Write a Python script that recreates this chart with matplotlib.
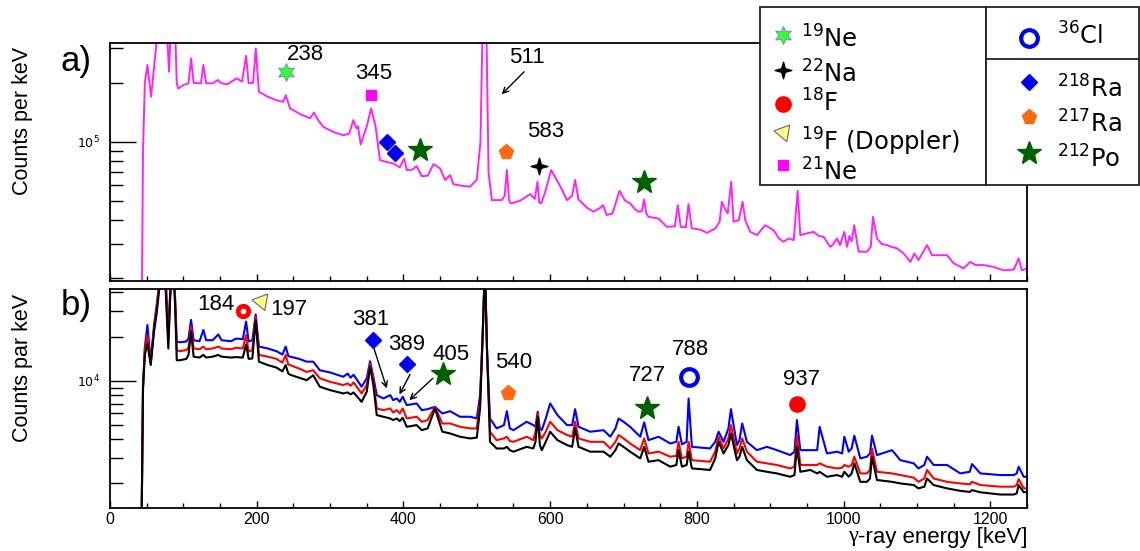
import matplotlib
matplotlib.use('Agg')
import numpy as np
import matplotlib.pyplot as plt
from matplotlib.patches import Rectangle
from matplotlib.path import Path
from matplotlib.ticker import MultipleLocator, LogLocator, NullFormatter, FuncFormatter

plt.rcParams['font.family'] = ['Liberation Sans', 'DejaVu Sans']
plt.rcParams['mathtext.fontset'] = 'dejavusans'

# ---- panel a) spectrum (keV, counts per keV) ----
energy_a = [0, 43, 45, 47.5, 51, 56, 62, 66, 72, 77,
            80.5, 83, 86, 89, 91, 93, 100, 107, 110.5, 114,
            124, 127.3, 131, 140, 147, 152, 160, 172.7, 180, 185.5,
            189, 195, 198.7, 203, 215, 227, 236, 239.6, 245.5, 260,
            272.7, 278, 283, 291, 305, 318, 326, 331.8, 336, 338,
            341.8, 350, 356, 362, 368, 376, 386, 395, 401, 404.6,
            412, 418, 425, 433, 441, 450, 456.8, 463.6, 468, 480,
            491, 500, 505, 508, 510.5, 513, 516, 520.5, 534, 538,
            541, 544, 546.4, 559, 572.7, 579, 582.7, 585, 587.7, 593,
            601.4, 609, 615, 622.8, 630, 634, 638.6, 650, 659, 667,
            672, 677, 685, 694.5, 702, 709, 716, 720.5, 725, 728,
            731, 734, 747.7, 759, 770, 774, 778, 785, 788.6, 793,
            805, 813.7, 825, 831, 834, 838, 842, 846.8, 850, 857,
            862.3, 866, 872.7, 882, 893, 904.5, 912, 918, 925, 932,
            937.3, 941, 950, 959, 966, 972.7, 981.8, 986, 991, 995,
            1001, 1004.6, 1008, 1011, 1014.5, 1020.5, 1032, 1037, 1040, 1045.5,
            1052, 1059, 1065, 1072.8, 1082, 1091, 1096.4, 1102, 1113.7, 1120.5,
            1141, 1150, 1163.6, 1172.7, 1180, 1190.9, 1204.5, 1218, 1232, 1238.6,
            1243, 1250]
counts_a = [1e4, 1e4, 9e4, 2.0e5, 2.47e5, 1.70e5, 2.83e5, 4e5, 6e5, 4e5,
            2.28e5, 4e5, 6e5, 3.5e5, 1.99e5, 1.87e5, 1.95e5, 1.99e5, 2.67e5, 2.0e5,
            1.99e5, 2.47e5, 1.99e5, 1.99e5, 2.07e5, 1.99e5, 1.97e5, 2.11e5, 2.03e5, 2.75e5,
            1.99e5, 2.0e5, 3.0e5, 1.80e5, 1.70e5, 1.63e5, 1.60e5, 1.73e5, 1.48e5, 1.38e5,
            1.32e5, 1.41e5, 1.30e5, 1.19e5, 1.12e5, 1.08e5, 1.10e5, 1.29e5, 1.17e5, 1.2e5,
            9.7e4, 1.2e5, 1.48e5, 1.2e5, 8.06e4, 7.9e4, 7.74e4, 7.4e4, 8.2e4, 7.16e4,
            7.2e4, 7.5e4, 6.67e4, 6.7e4, 7.69e4, 7.3e4, 6.37e4, 6.75e4, 6.07e4, 5.95e4,
            5.89e4, 6.4e4, 1.0e5, 4e5, 1e6, 4e5, 7e4, 5.03e4, 5.03e4, 5.3e4,
            7.17e4, 5.0e4, 4.84e4, 4.99e4, 5.40e4, 5.1e4, 6.24e4, 4.9e4, 4.84e4, 5.5e4,
            7.17e4, 6.37e4, 5.8e4, 5.03e4, 5.3e4, 6.37e4, 5.07e4, 4.6e4, 4.39e4, 4.56e4,
            4.74e4, 4.22e4, 4.3e4, 5.61e4, 5.0e4, 4.84e4, 4.5e4, 4.39e4, 4.4e4, 5.07e4,
            4.3e4, 4.13e4, 4.05e4, 3.67e4, 3.7e4, 4.74e4, 3.67e4, 3.65e4, 4.80e4, 3.61e4,
            3.55e4, 3.42e4, 3.6e4, 3.9e4, 4.93e4, 4.56e4, 4.3e4, 6.24e4, 3.90e4, 3.97e4,
            4.93e4, 3.97e4, 3.46e4, 3.33e4, 3.74e4, 3.53e4, 3.2e4, 3.08e4, 3.2e4, 3.14e4,
            5.61e4, 3.33e4, 3.4e4, 3.46e4, 3.3e4, 3.26e4, 2.90e4, 3.0e4, 3.20e4, 2.96e4,
            3.46e4, 2.90e4, 3.3e4, 3.1e4, 3.74e4, 2.74e4, 2.74e4, 2.9e4, 4.13e4, 3.2e4,
            3.0e4, 2.96e4, 2.9e4, 2.85e4, 2.68e4, 2.43e4, 2.68e4, 2.48e4, 2.96e4, 2.63e4,
            2.63e4, 2.39e4, 2.25e4, 2.43e4, 2.34e4, 2.34e4, 2.29e4, 2.20e4, 2.22e4, 2.53e4,
            2.20e4, 2.25e4]

# ---- panel b) spectra ----
energy_b = [0, 43, 45, 47.5, 51, 55.5, 60, 63.6, 68, 72,
            76, 79.5, 82, 85.5, 89, 91, 95, 104, 107, 110.5,
            114, 122, 127.3, 131, 140, 147.7, 152, 165, 172, 181,
            185.5, 189, 194, 198.6, 203, 215, 227, 235, 239.5, 243,
            245.5, 258, 268, 277, 286, 300, 318, 324, 328, 332,
            343, 350, 354.5, 359, 363.6, 372.7, 382, 386, 391, 395,
            399, 404.5, 418, 425, 433, 443, 453, 463.6, 477, 491,
            500, 504.5, 508, 511, 514, 518, 527, 537, 541, 545,
            550, 568, 577, 580, 583, 586, 588.6, 594, 600, 610,
            623, 630, 634, 638.7, 654.6, 672.8, 682, 689, 693.2, 700,
            709, 722.8, 728.2, 734, 747.8, 763.7, 772, 775, 779.6, 786,
            788.7, 793.2, 818, 825, 829.6, 836.4, 843, 846.4, 854.6, 858,
            861.8, 868.2, 881.8, 895.5, 909, 927.3, 933, 936.4, 941, 954.6,
            964, 967.3, 977.3, 991, 998, 1001, 1007, 1011, 1014.6, 1022.8,
            1031.8, 1036, 1038.7, 1045.5, 1066, 1077.3, 1095.5, 1102, 1110, 1113.7,
            1122.7, 1141, 1159, 1172, 1175, 1186.4, 1213.6, 1232, 1236, 1238.6,
            1245.5, 1250]
counts_blue = [1e3, 1e3, 9e3, 1.7e4, 2.40e4, 1.35e4, 2.40e4, 3.28e4, 5.0e4, 8e4,
               5.0e4, 2.05e4, 4.0e4, 8e4, 3.5e4, 1.85e4, 1.83e4, 1.85e4, 1.94e4, 2.60e4,
               1.89e4, 1.86e4, 2.22e4, 1.89e4, 1.89e4, 2.07e4, 1.89e4, 1.86e4, 1.94e4, 1.92e4,
               2.53e4, 1.85e4, 1.89e4, 2.83e4, 1.71e4, 1.66e4, 1.59e4, 1.51e4, 1.71e4, 1.48e4,
               1.46e4, 1.41e4, 1.35e4, 1.35e4, 1.18e4, 1.14e4, 1.065e4, 1.12e4, 1.05e4, 1.10e4,
               9.11e3, 1.04e4, 1.36e4, 1.065e4, 7.99e3, 7.58e3, 7.99e3, 7.38e3, 7.58e3, 7.19e3,
               7.78e3, 6.83e3, 7.01e3, 6.31e3, 6.41e3, 6.65e3, 5.99e3, 6.21e3, 5.69e3, 5.69e3,
               5.54e3, 7.99e3, 2.05e4, 6e4, 1.58e4, 5.54e3, 4.74e3, 4.99e3, 6.21e3, 4.74e3,
               4.61e3, 5.26e3, 4.99e3, 4.86e3, 6.15e3, 4.74e3, 4.61e3, 5.54e3, 7.01e3, 5.84e3,
               4.99e3, 4.99e3, 6.41e3, 4.86e3, 4.50e3, 4.61e3, 4.16e3, 4.74e3, 5.54e3, 5.26e3,
               4.86e3, 4.16e3, 5.21e3, 3.94e3, 4.16e3, 3.74e3, 3.84e3, 4.86e3, 3.69e3, 3.84e3,
               7.58e3, 3.55e3, 3.46e3, 3.84e3, 4.50e3, 3.84e3, 4.74e3, 6.41e3, 3.65e3, 3.94e3,
               5.12e3, 3.84e3, 3.37e3, 3.55e3, 3.37e3, 3.12e3, 3.29e3, 5.40e3, 3.37e3, 3.37e3,
               3.37e3, 4.86e3, 3.20e3, 3.29e3, 3.20e3, 4.16e3, 3.29e3, 3.46e3, 4.23e3, 2.96e3,
               3.04e3, 3.20e3, 4.23e3, 3.12e3, 3.37e3, 2.88e3, 2.74e3, 2.53e3, 2.67e3, 3.04e3,
               2.67e3, 2.67e3, 2.34e3, 2.40e3, 2.71e3, 2.34e3, 2.28e3, 2.28e3, 2.34e3, 2.60e3,
               2.22e3, 2.22e3]
counts_red = [1e3, 1e3, 9e3, 1.6e4, 2.05e4, 1.31e4, 2.27e4, 3.11e4, 5.0e4, 8e4,
              4.5e4, 1.89e4, 3.8e4, 8e4, 3.2e4, 1.62e4, 1.59e4, 1.62e4, 1.68e4, 2.34e4,
              1.66e4, 1.64e4, 1.71e4, 1.64e4, 1.66e4, 1.71e4, 1.66e4, 1.64e4, 1.68e4, 1.66e4,
              2.05e4, 1.58e4, 1.62e4, 2.73e4, 1.50e4, 1.46e4, 1.41e4, 1.33e4, 1.50e4, 1.29e4,
              1.28e4, 1.21e4, 1.15e4, 1.18e4, 1.04e4, 9.84e3, 9.35e3, 9.59e3, 9.25e3, 9.75e3,
              8.20e3, 9.35e3, 1.31e4, 1.01e4, 6.48e3, 6.31e3, 6.48e3, 6.08e3, 6.31e3, 5.99e3,
              6.48e3, 5.54e3, 5.69e3, 5.26e3, 5.40e3, 6.65e3, 5.12e3, 5.12e3, 4.86e3, 4.74e3,
              4.74e3, 7.19e3, 2.05e4, 6e4, 1.58e4, 4.50e3, 3.94e3, 4.05e3, 4.16e3, 3.89e3,
              3.84e3, 4.16e3, 3.94e3, 4.50e3, 5.99e3, 4.27e3, 4.05e3, 4.50e3, 5.26e3, 4.61e3,
              4.27e3, 4.16e3, 5.26e3, 4.05e3, 3.84e3, 3.84e3, 3.46e3, 3.84e3, 4.27e3, 4.05e3,
              3.74e3, 3.37e3, 4.05e3, 3.20e3, 3.29e3, 3.04e3, 3.08e3, 3.84e3, 2.96e3, 3.04e3,
              3.84e3, 2.88e3, 2.81e3, 3.29e3, 4.16e3, 3.46e3, 4.05e3, 4.99e3, 3.20e3, 3.46e3,
              4.05e3, 3.29e3, 2.81e3, 2.74e3, 2.67e3, 2.53e3, 2.60e3, 4.27e3, 2.67e3, 2.67e3,
              2.67e3, 2.74e3, 2.60e3, 2.53e3, 2.56e3, 2.67e3, 2.60e3, 2.67e3, 3.04e3, 2.34e3,
              2.34e3, 2.47e3, 3.46e3, 2.40e3, 2.34e3, 2.28e3, 2.19e3, 2.05e3, 2.16e3, 2.47e3,
              2.16e3, 2.05e3, 2.00e3, 1.97e3, 2.05e3, 1.95e3, 1.90e3, 1.90e3, 1.95e3, 2.14e3,
              1.85e3, 1.85e3]
counts_black = [1e3, 1e3, 9e3, 1.5e4, 1.80e4, 1.28e4, 2.16e4, 2.88e4, 4.6e4, 8e4,
                4.0e4, 1.66e4, 3.6e4, 8e4, 3.0e4, 1.38e4, 1.38e4, 1.41e4, 1.50e4, 2.16e4,
                1.46e4, 1.44e4, 1.50e4, 1.44e4, 1.46e4, 1.50e4, 1.46e4, 1.44e4, 1.45e4, 1.44e4,
                1.77e4, 1.41e4, 1.42e4, 2.59e4, 1.35e4, 1.28e4, 1.23e4, 1.16e4, 1.28e4, 1.12e4,
                1.10e4, 1.05e4, 1.01e4, 1.09e4, 9.11e3, 8.64e3, 8.20e3, 8.33e3, 8.08e3, 8.33e3,
                7.19e3, 8.42e3, 1.25e4, 9.35e3, 5.84e3, 5.69e3, 5.54e3, 5.40e3, 5.54e3, 5.31e3,
                5.60e3, 4.86e3, 4.99e3, 4.61e3, 4.74e3, 6.48e3, 4.50e3, 4.38e3, 4.16e3, 4.05e3,
                4.10e3, 6.48e3, 2.05e4, 6e4, 1.58e4, 3.84e3, 3.46e3, 3.46e3, 3.55e3, 3.37e3,
                3.29e3, 3.55e3, 3.46e3, 3.84e3, 5.69e3, 3.65e3, 3.37e3, 3.84e3, 4.50e3, 3.94e3,
                3.65e3, 3.55e3, 4.74e3, 3.55e3, 3.29e3, 3.29e3, 3.04e3, 3.37e3, 3.74e3, 3.55e3,
                3.29e3, 2.96e3, 3.55e3, 2.81e3, 2.88e3, 2.60e3, 2.67e3, 3.37e3, 2.60e3, 2.67e3,
                3.29e3, 2.53e3, 2.47e3, 2.96e3, 3.84e3, 3.20e3, 3.65e3, 4.38e3, 2.88e3, 3.04e3,
                3.55e3, 2.88e3, 2.47e3, 2.40e3, 2.34e3, 2.22e3, 2.28e3, 3.55e3, 2.40e3, 2.47e3,
                2.34e3, 2.40e3, 2.22e3, 2.28e3, 2.22e3, 2.40e3, 2.22e3, 2.34e3, 2.74e3, 2.05e3,
                2.05e3, 2.16e3, 3.04e3, 2.11e3, 2.05e3, 2.00e3, 1.95e3, 1.85e3, 1.90e3, 2.16e3,
                1.95e3, 1.85e3, 1.78e3, 1.75e3, 1.80e3, 1.74e3, 1.68e3, 1.68e3, 1.71e3, 1.95e3,
                1.74e3, 1.75e3]

# ---- identified lines ----
marks_a_x = [240, 356, 377, 389, 423, 540, 585, 728]
marks_a_y = [2.27e5, 1.73e5, 1.0e5, 8.78e4, 9.07e4, 8.83e4, 7.51e4, 6.24e4]
marks_a_kind = ['ne19', 'ne21', 'ra218', 'ra218', 'po212', 'ra217', 'na22', 'po212']
labels_a = ['238', '345', '511', '583']
labels_a_x = [266, 359, 568, 594]
labels_a_y = [2.78e5, 2.24e5, 2.70e5, 1.125e5]

marks_b_x = [181, 205.5, 358, 404.5, 454.5, 542, 732, 789.6, 936.4]
marks_b_y = [2.99e4, 3.49e4, 1.91e4, 1.30e4, 1.12e4, 8.21e3, 6.55e3, 1.055e4, 6.93e3]
marks_b_kind = ['f18ring', 'f19d', 'ra218', 'ra218', 'po212', 'ra217', 'po212', 'cl36', 'f18']
labels_b = ['184', '197', '381', '389', '405', '540', '727', '788', '937']
labels_b_x = [144, 244, 356, 404, 465, 550.5, 732, 791.4, 942.3]
labels_b_y = [3.33e4, 3.08e4, 2.62e4, 1.77e4, 1.50e4, 1.33e4, 1.08e4, 1.63e4, 1.02e4]

arrows_b_from = [(359, 1.71e4), (409, 1.106e4), (440, 1.04e4)]
arrows_b_to = [(377.3, 8.88e3), (394.5, 8.08e3), (408, 7.38e3)]

star4 = Path([(0, 1), (0.22, 0.22), (1, 0), (0.22, -0.22), (0, -1),
              (-0.22, -0.22), (-1, 0), (-0.22, 0.22), (0, 1)], closed=True)

styles = {
    'ne19': dict(marker=(6, 1, 0), ms=13, mfc='#33ff33', mec='#6f8fb0', mew=0.7),
    'ne21': dict(marker='s', ms=7, mfc='#ff00ff', mec='#ff00ff'),
    'ra218': dict(marker='D', ms=8, mfc='#0000ee', mec='#0000ee'),
    'ra217': dict(marker='p', ms=11, mfc='#ff6a10', mec='#ff6a10'),
    'na22': dict(marker=star4, ms=12, mfc='black', mec='black'),
    'po212': dict(marker='*', ms=18, mfc='#006000', mec='#006000'),
    'f18': dict(marker='o', ms=11, mfc='#ff0000', mec='#ff0000'),
    'f18ring': dict(marker='o', ms=10, mfc='#ff0000', mec='#ff0000'),
    'f19d': dict(marker=(3, 0, -160), ms=14, mfc='#ffff88', mec='#666666', mew=0.8),
    'cl36': dict(marker='o', ms=12, mfc='none', mec='#0000ee', mew=3),
}


def draw_mark(ax, x, y, kind):
    ax.plot([x], [y], linestyle='none', clip_on=False, zorder=6, **styles[kind])
    if kind == 'f18ring':
        ax.plot([x], [y], 'o', ms=3, color='white', clip_on=False, zorder=7)


fig = plt.figure(figsize=(11.4, 5.51), dpi=100)
W, H = 1140.0, 551.0
ax1 = fig.add_axes([110 / W, 1 - 281 / H, 917 / W, 238 / H])
ax2 = fig.add_axes([110 / W, 1 - 508 / H, 917 / W, 219 / H])

ax1.plot(energy_a, counts_a, color='#ff22ff', lw=1.4)
ax2.plot(energy_b, counts_blue, color='#0000ff', lw=1.5)
ax2.plot(energy_b, counts_red, color='#ff0000', lw=1.5)
ax2.plot(energy_b, counts_black, color='black', lw=1.5)

ax1.set_ylim(1.94e4, 3.2e5)
ax2.set_ylim(1.36e3, 4.22e4)

for ax in (ax1, ax2):
    ax.set_xlim(0, 1250)
    ax.set_yscale('log')
    ax.xaxis.set_major_locator(MultipleLocator(200))
    ax.xaxis.set_minor_locator(MultipleLocator(50))
    ax.yaxis.set_major_locator(LogLocator(base=10, numticks=10))
    ax.yaxis.set_minor_locator(LogLocator(base=10, subs=range(2, 10), numticks=20))
    ax.yaxis.set_major_formatter(FuncFormatter(lambda v, p: r'$10^{%d}$' % round(np.log10(v))))
    ax.yaxis.set_minor_formatter(NullFormatter())
    ax.tick_params(which='both', direction='in', top=False, right=False, width=1)
    ax.tick_params(axis='y', which='major', length=18.5, pad=7, labelsize=9)
    ax.tick_params(axis='y', which='minor', length=9.3)
    ax.tick_params(axis='x', which='major', length=5)
    ax.tick_params(axis='x', which='minor', length=3.5)
    for s in ax.spines.values():
        s.set_linewidth(1.3)

ax1.tick_params(axis='x', labelbottom=False)
ax2.tick_params(axis='x', labelsize=11.5, pad=3)

for x, y, k in zip(marks_a_x, marks_a_y, marks_a_kind):
    draw_mark(ax1, x, y, k)
for t, x, y in zip(labels_a, labels_a_x, labels_a_y):
    ax1.text(x, y, t, ha='center', va='center', fontsize=16)
ax1.annotate('', xy=(534, 1.75e5), xytext=(564.5, 2.28e5),
             arrowprops=dict(arrowstyle='->', lw=1, color='black', shrinkA=0, shrinkB=0))

for x, y, k in zip(marks_b_x, marks_b_y, marks_b_kind):
    draw_mark(ax2, x, y, k)
for t, x, y in zip(labels_b, labels_b_x, labels_b_y):
    ax2.text(x, y, t, ha='center', va='center', fontsize=16)
for p0, p1 in zip(arrows_b_from, arrows_b_to):
    ax2.annotate('', xy=p1, xytext=p0,
                 arrowprops=dict(arrowstyle='->', lw=1, color='black', shrinkA=0, shrinkB=0))

fig.text(23 / W, 1 - 121 / H, 'Counts per keV', rotation=90, ha='center', va='center', fontsize=15.5)
fig.text(23 / W, 1 - 368 / H, 'Counts par keV', rotation=90, ha='center', va='center', fontsize=15.5)
fig.text(61 / W, 1 - 62 / H, 'a)', ha='left', va='center', fontsize=25)
fig.text(61 / W, 1 - 306 / H, 'b)', ha='left', va='center', fontsize=25)

xl = fig.text(1027 / W, 1 - 537 / H, '-ray energy [keV]', ha='right', va='center', fontsize=16)
fig.canvas.draw()
bb = xl.get_window_extent()
fig.text(bb.x0 / fig.bbox.width, 1 - 537 / H, 'γ', ha='right', va='center',
         fontsize=16, family='Liberation Serif')

# legend boxes, pixel coordinates
lax = fig.add_axes([0, 0, 1, 1], zorder=10)
lax.set_xlim(0, W)
lax.set_ylim(H, 0)
lax.axis('off')
lax.add_patch(Rectangle((760, 7), 226, 178, facecolor='white', edgecolor='#222222', lw=1.3))
lax.add_patch(Rectangle((986, 7), 153, 178, facecolor='white', edgecolor='#222222', lw=1.3))
lax.plot([986, 1139], [59, 59], color='#222222', lw=1.3)

leg_left = [('ne19', r'$^{19}$Ne', 35, 48), ('na22', r'$^{22}$Na', 70, 83),
            ('f18', r'$^{18}$F', 104, 112), ('f19d', r'$^{19}$F (Doppler)', 132, 151),
            ('ne21', r'$^{21}$Ne', 165, 181)]
leg_right = [('cl36', r'$^{36}$Cl', 38, 45), ('ra218', r'$^{218}$Ra', 82, 98),
             ('ra217', r'$^{217}$Ra', 117, 133), ('po212', r'$^{212}$Po', 153, 168)]
for k, t, ym, yt in leg_left:
    draw_mark(lax, 783, ym, k)
    lax.text(801, yt, t, ha='left', va='baseline', fontsize=17.5, family='DejaVu Sans')
for k, t, ym, yt in leg_right:
    draw_mark(lax, 1029, ym, k)
    lax.text(1057, yt, t, ha='left', va='baseline', fontsize=17.5, family='DejaVu Sans')

fig.savefig('out.png', dpi=100)
